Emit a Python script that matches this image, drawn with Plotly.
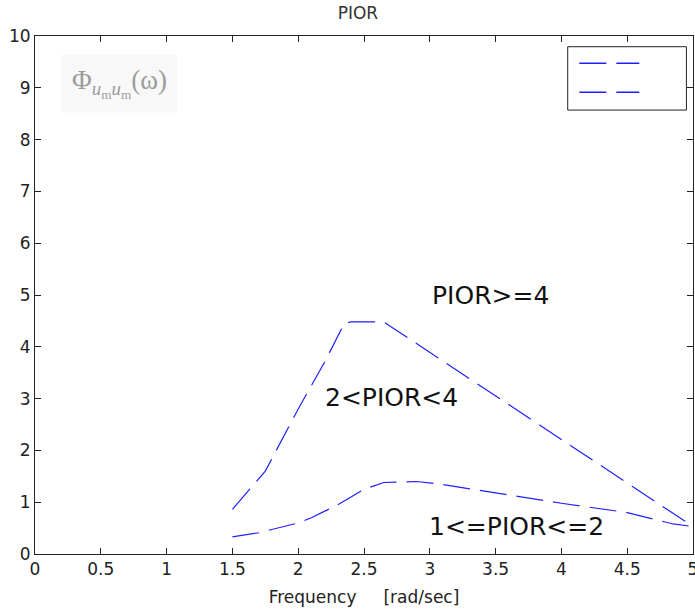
import plotly.graph_objects as go

# ---- data ----
x_high = [1.5, 1.75, 2.0, 2.2, 2.35, 2.4, 2.65, 5.0]
y_high = [0.86, 1.6, 2.8, 3.7, 4.45, 4.48, 4.48, 0.53]

x_mid = [1.5, 1.7, 2.0, 2.1, 2.3, 2.5, 2.65, 2.9, 3.1, 3.5, 4.0, 4.5, 4.85, 5.0]
y_mid = [0.33, 0.41, 0.6, 0.7, 0.95, 1.25, 1.38, 1.40, 1.34, 1.18, 0.98, 0.8, 0.58, 0.53]

x_ticks = [0, 0.5, 1, 1.5, 2, 2.5, 3, 3.5, 4, 4.5, 5]
x_ticktext = ["0", "0.5", "1", "1.5", "2", "2.5", "3", "3.5", "4", "4.5", "5"]
y_ticks = [0, 1, 2, 3, 4, 5, 6, 7, 8, 9, 10]

labels = ["PIOR>=4", "2<PIOR<4", "1<=PIOR<=2"]
label_x = [3.46, 2.71, 3.66]
label_y = [5.0, 3.02, 0.53]

BLUE = "#2020ff"
DASH = "27px,10px"
FONT = "DejaVu Sans"

fig = go.Figure()
fig.add_trace(go.Scatter(x=x_high, y=y_high, mode="lines", name="2<PIOR<4",
                         line=dict(color=BLUE, width=1.2, dash=DASH), showlegend=False))
fig.add_trace(go.Scatter(x=x_mid, y=y_mid, mode="lines", name="1<=PIOR<=2",
                         line=dict(color=BLUE, width=1.2, dash=DASH), showlegend=False))

for t, xx, yy in zip(labels, label_x, label_y):
    fig.add_annotation(x=xx, y=yy, text=t, showarrow=False,
                       font=dict(family=FONT, size=25, color="#111"),
                       xanchor="center", yanchor="middle")

# faint formula label in the upper-left
fig.add_annotation(xref="paper", yref="paper", x=0.128, y=0.908,
                   text="Φ<sub><i>u</i><sub>m</sub><i>u</i><sub>m</sub></sub>(ω)",
                   showarrow=False, xanchor="center", yanchor="middle",
                   font=dict(family="Liberation Serif", size=27, color="#9c9c9c"),
                   bgcolor="#f8f8f8", borderpad=10)

# legend box (entries without text)
fig.add_shape(type="rect", xref="paper", yref="paper",
              x0=0.8096, x1=0.990, y0=0.857, y1=0.9793,
              line=dict(color="#222", width=1), fillcolor="white")
for yy in [0.9473, 0.8913]:
    fig.add_shape(type="line", xref="paper", yref="paper",
                  x0=0.8272, x1=0.9184, y0=yy, y1=yy,
                  line=dict(color=BLUE, width=1.5, dash=DASH))

axis_common = dict(showline=True, linecolor="#222", linewidth=1, mirror="ticks",
                   ticks="inside", ticklen=6, tickcolor="#222", showgrid=False,
                   zeroline=False, automargin=False, ticklabeloverflow="allow",
                   tickfont=dict(family=FONT, size=17, color="#222"))

fig.update_xaxes(range=[0, 5], tickvals=x_ticks, ticktext=x_ticktext,
                 title=dict(text="Frequency\u00a0\u00a0\u00a0\u00a0\u00a0[rad/sec]",
                            font=dict(family=FONT, size=17, color="#222"), standoff=12),
                 **axis_common)
fig.update_yaxes(range=[0, 10], tickvals=y_ticks, **axis_common)

fig.update_layout(
    width=695, height=610,
    margin=dict(l=35, r=2, t=36, b=56),
    paper_bgcolor="white", plot_bgcolor="white",
    title=dict(text="PIOR", x=0.515, xanchor="center", y=1 - 13 / 610, yanchor="middle",
               font=dict(family=FONT, size=17, color="#333")),
    showlegend=False,
)

fig.write_html("out.html", config={"displayModeBar": False},
               post_script="document.body.style.margin='0';")
